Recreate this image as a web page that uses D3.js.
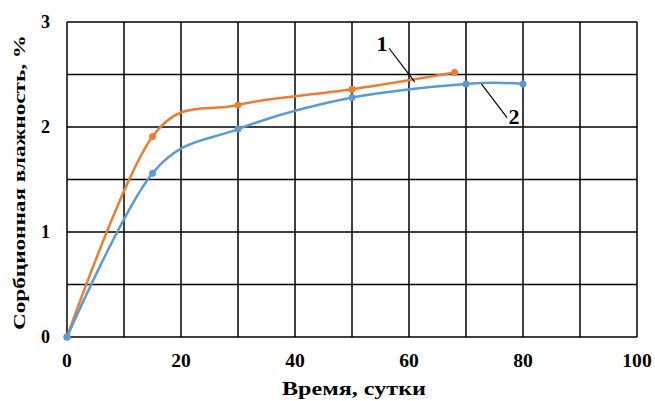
<!DOCTYPE html>
<html>
<head>
<meta charset="utf-8">
<script src="https://cdn.jsdelivr.net/npm/d3@7"></script>
<style>
  html, body { margin: 0; padding: 0; background: #fff; }
  svg { display: block; }
</style>
</head>
<body>
<svg id="chart" width="655" height="401"></svg>
<script>
// Sorption moisture vs. time, two samples
const days1 = [0, 15, 30, 50, 68];
const moisture1 = [0, 1.91, 2.21, 2.36, 2.52];
const days2 = [0, 15, 30, 50, 70, 80];
const moisture2 = [0, 1.56, 1.98, 2.28, 2.41, 2.41];

const xTicks = [0, 20, 40, 60, 80, 100];
const yTicks = [0, 1, 2, 3];
const xGrid = d3.range(0, 101, 10);
const yGrid = d3.range(0, 3.01, 0.5);

const seriesLabels = ["1", "2"];
// leader lines: [x1, y1, x2, y2] in data units
const leader1 = [56.5, 2.75, 61.0, 2.43];
const leader2 = [72.7, 2.41, 77.2, 2.09];

const svg = d3.select("#chart");
const plotLeft = 67, plotRight = 637, plotTop = 22, plotBottom = 337;

const x = d3.scaleLinear().domain([0, 100]).range([plotLeft, plotRight]);
const y = d3.scaleLinear().domain([0, 3]).range([plotBottom, plotTop]);

function label(sel, size) {
  return sel.attr("font-family", "Liberation Serif")
    .attr("font-weight", "bold").attr("font-size", size).attr("fill", "#000");
}

// grid
const grid = svg.append("g").attr("stroke", "#000").attr("stroke-width", 1.5);
grid.selectAll("line.v").data(xGrid).join("line").attr("class", "v")
  .attr("x1", d => x(d)).attr("x2", d => x(d))
  .attr("y1", plotTop).attr("y2", plotBottom);
grid.selectAll("line.h").data(yGrid).join("line").attr("class", "h")
  .attr("x1", plotLeft).attr("x2", plotRight)
  .attr("y1", d => y(d)).attr("y2", d => y(d));

// tick labels (slightly wide glyphs)
label(svg.append("g").selectAll("text").data(xTicks).join("text"), 18)
  .attr("x", d => x(d)).attr("y", 367)
  .attr("text-anchor", "middle")
  .attr("textLength", d => String(d).length * 9.8)
  .attr("lengthAdjust", "spacingAndGlyphs")
  .text(d => d);
label(svg.append("g").selectAll("text").data(yTicks).join("text"), 18)
  .attr("x", 50).attr("y", d => y(d) + 6)
  .attr("text-anchor", "end")
  .text(d => d);

// axis titles
label(svg.append("text"), 18).attr("x", 354).attr("y", 395)
  .attr("text-anchor", "middle")
  .attr("textLength", 144).attr("lengthAdjust", "spacingAndGlyphs")
  .text("Время, сутки");
label(svg.append("text"), 16)
  .attr("transform", "translate(25,182.5) rotate(-90)")
  .attr("text-anchor", "middle")
  .attr("textLength", 295).attr("lengthAdjust", "spacingAndGlyphs")
  .text("Сорбционная влажность, %");

const line = d3.line().curve(d3.curveCardinal.tension(0))
  .x(d => x(d[0])).y(d => y(d[1]));

function drawSeries(xs, ys, color) {
  const pts = xs.map((d, i) => [d, ys[i]]);
  svg.append("path").datum(pts)
    .attr("fill", "none").attr("stroke", color).attr("stroke-width", 2.5)
    .attr("d", line);
  svg.append("g").selectAll("circle").data(pts).join("circle")
    .attr("cx", d => x(d[0])).attr("cy", d => y(d[1]))
    .attr("r", 3.5).attr("fill", color);
}
drawSeries(days1, moisture1, "#ED7D31");
drawSeries(days2, moisture2, "#5B9BD5");

// leader lines and series numbers
[leader1, leader2].forEach(l => {
  svg.append("line")
    .attr("x1", x(l[0])).attr("y1", y(l[1]))
    .attr("x2", x(l[2])).attr("y2", y(l[3]))
    .attr("stroke", "#000").attr("stroke-width", 1.2);
});
label(svg.append("text"), 22).attr("x", x(leader1[0]) - 7).attr("y", y(leader1[1]) + 2.5)
  .attr("text-anchor", "middle").text(seriesLabels[0]);
label(svg.append("text"), 22).attr("x", x(leader2[2]) + 7).attr("y", y(leader2[3]) + 6.5)
  .attr("text-anchor", "middle").text(seriesLabels[1]);
</script>
</body>
</html>
